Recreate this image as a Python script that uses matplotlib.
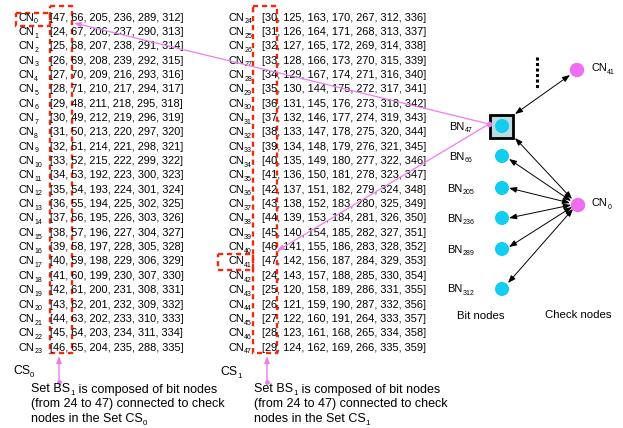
import matplotlib.pyplot as plt
from matplotlib.patches import Rectangle, Circle

plt.rcParams['font.family'] = ['Liberation Sans', 'DejaVu Sans']

# check node connections, set CS0 (CN0..CN23) and CS1 (CN24..CN47)
cs0_ids = list(range(0, 24))
cs0_rows = [
    [47, 66, 205, 236, 289, 312], [24, 67, 206, 237, 290, 313],
    [25, 68, 207, 238, 291, 314], [26, 69, 208, 239, 292, 315],
    [27, 70, 209, 216, 293, 316], [28, 71, 210, 217, 294, 317],
    [29, 48, 211, 218, 295, 318], [30, 49, 212, 219, 296, 319],
    [31, 50, 213, 220, 297, 320], [32, 51, 214, 221, 298, 321],
    [33, 52, 215, 222, 299, 322], [34, 53, 192, 223, 300, 323],
    [35, 54, 193, 224, 301, 324], [36, 55, 194, 225, 302, 325],
    [37, 56, 195, 226, 303, 326], [38, 57, 196, 227, 304, 327],
    [39, 58, 197, 228, 305, 328], [40, 59, 198, 229, 306, 329],
    [41, 60, 199, 230, 307, 330], [42, 61, 200, 231, 308, 331],
    [43, 62, 201, 232, 309, 332], [44, 63, 202, 233, 310, 333],
    [45, 64, 203, 234, 311, 334], [46, 65, 204, 235, 288, 335],
]
cs1_ids = list(range(24, 48))
cs1_rows = [
    [30, 125, 163, 170, 267, 312, 336], [31, 126, 164, 171, 268, 313, 337],
    [32, 127, 165, 172, 269, 314, 338], [33, 128, 166, 173, 270, 315, 339],
    [34, 129, 167, 174, 271, 316, 340], [35, 130, 144, 175, 272, 317, 341],
    [36, 131, 145, 176, 273, 318, 342], [37, 132, 146, 177, 274, 319, 343],
    [38, 133, 147, 178, 275, 320, 344], [39, 134, 148, 179, 276, 321, 345],
    [40, 135, 149, 180, 277, 322, 346], [41, 136, 150, 181, 278, 323, 347],
    [42, 137, 151, 182, 279, 324, 348], [43, 138, 152, 183, 280, 325, 349],
    [44, 139, 153, 184, 281, 326, 350], [45, 140, 154, 185, 282, 327, 351],
    [46, 141, 155, 186, 283, 328, 352], [47, 142, 156, 187, 284, 329, 353],
    [24, 143, 157, 188, 285, 330, 354], [25, 120, 158, 189, 286, 331, 355],
    [26, 121, 159, 190, 287, 332, 356], [27, 122, 160, 191, 264, 333, 357],
    [28, 123, 161, 168, 265, 334, 358], [29, 124, 162, 169, 266, 335, 359],
]
bit_nodes = [47, 66, 205, 236, 289, 312]
check_nodes = [41, 0]

RED = '#f02a10'
PINK = '#ee7cf0'
CYAN = '#12cdf0'
MAGENTA = '#f06cf0'

fig = plt.figure(figsize=(6.23, 4.28), dpi=100)
ax = fig.add_axes([0, 0, 1, 1])
ax.set_xlim(0, 623)
ax.set_ylim(428, 0)
ax.axis('off')
renderer = fig.canvas.get_renderer()


def width(t):
    return t.get_window_extent(renderer).width


def sub_text(x, y, parts, fs, ha='left', drop=None):
    # parts: list of (text, is_subscript); y is the baseline
    if drop is None:
        drop = 2.8 * fs / 8
    items = []
    for s, is_sub in parts:
        t = ax.text(0, y + (drop if is_sub else 0), s,
                    fontsize=fs * 0.64 if is_sub else fs, va='baseline', ha='left')
        items.append(t)
    total = sum(width(t) for t in items)
    if ha == 'right':
        x -= total
    elif ha == 'center':
        x -= total / 2
    for t in items:
        t.set_x(x)
        x += width(t)
    return x


fs = 7.9
row0, dy = 16.6, 14.35


def row_y(i):
    return row0 + dy * i


# left column CS0
for i, (cn, vals) in enumerate(zip(cs0_ids, cs0_rows)):
    y = row_y(i) + 3.9
    sub_text(18.5, y, [("CN", 0), (str(cn), 1)], fs)
    ax.text(50.5, y, "[" + ", ".join(str(v) for v in vals) + "]",
            fontsize=fs, va='baseline', ha='left')

# right column CS1
for i, (cn, vals) in enumerate(zip(cs1_ids, cs1_rows)):
    y = row_y(i) + 3.9
    sub_text(252, y, [("CN", 0), (str(cn), 1)], fs, ha='right')
    ax.text(261.5, y, "[" + ", ".join(str(v) for v in vals) + "]",
            fontsize=fs, va='baseline', ha='left')

dash = (0, (2.2, 1.6))
for (x0, y0, x1, y1) in [(50, 6, 72, 353), (16, 13, 50, 25.5),
                         (253, 6, 277, 353), (218, 254, 253, 270)]:
    ax.add_patch(Rectangle((x0, y0), x1 - x0, y1 - y0, fill=False,
                           edgecolor=RED, lw=1.7, linestyle=dash))

# set labels
sub_text(13, 374, [("CS", 0), ("0", 1)], 8.8)
sub_text(220, 375, [("CS", 0), ("1", 1)], 8.8)

# captions with pink arrows
for cx, ax_x, cs in [(31, 59, 0), (254, 267, 1)]:
    lines = [[("Set BS", 0), ("1", 1), (" is composed of bit nodes", 0)],
             [("(from 24 to 47) connected to check", 0)],
             [("nodes in the Set CS", 0), (str(cs), 1)]]
    for k, line in enumerate(lines):
        sub_text(cx, 392.5 + 15 * k, line, 9, drop=2.2)
    ax.annotate("", xy=(ax_x, 356), xytext=(ax_x, 382),
                arrowprops=dict(arrowstyle='-|>,head_length=0.4,head_width=0.15',
                                color=PINK, lw=1, shrinkA=0, shrinkB=0))
    ax.plot(ax_x, 382, 'o', color=PINK, ms=2.5)

# node graph
bit_x = 502
bit_y = [126, 156, 188, 218, 249, 289]
ax.add_patch(Rectangle((490, 114.5), 23, 23, facecolor='#b8dce2',
                       edgecolor='black', lw=2, zorder=2))
for bn, y in zip(bit_nodes, bit_y):
    ax.add_patch(Circle((bit_x, y), 6.3, color=CYAN, zorder=3))
    sub_text(461, y + 3.5, [("BN", 0), (str(bn), 1)], fs, ha='center')

cn_pos = [(577, 70), (578, 205)]
for cn, (x, y) in zip(check_nodes, cn_pos):
    ax.add_patch(Circle((x, y), 6.5, color=MAGENTA, zorder=3))
    sub_text(x + 14, y + 1, [("CN", 0), (str(cn), 1)], fs)

ax.plot([537, 537], [57, 89], color='black', lw=2.2, linestyle=(0, (1, 0.8)))

arrow = dict(arrowstyle='<|-|>,head_length=0.45,head_width=0.17', color='black',
             lw=0.7, shrinkA=0, shrinkB=0)
ax.annotate("", xy=(515, 114), xytext=(570, 75), arrowprops=arrow)
bit_ends = [(515, 138), (509, 159), (509, 188), (509, 218), (509, 247), (508, 283)]
cn0_ends = [(572, 199), (571, 201), (570, 203), (571, 205), (572, 207), (573, 209)]
for (bx, by), (cx, cy) in zip(bit_ends, cn0_ends):
    ax.annotate("", xy=(bx, by), xytext=(cx, cy), arrowprops=arrow)

ax.text(481, 319, "Bit nodes", fontsize=8.2, ha='center', va='baseline')
ax.text(578, 318, "Check nodes", fontsize=8.2, ha='center', va='baseline')

# pink links from BN47 back to the tables
pink = dict(arrowstyle='-|>,head_length=0.4,head_width=0.15', color=PINK,
            lw=0.9, shrinkA=0, shrinkB=0)
ax.annotate("", xy=(74, 23), xytext=(489, 124), arrowprops=pink)
ax.annotate("", xy=(277, 251), xytext=(489, 124), arrowprops=pink)
ax.plot(489, 124, 'o', color=PINK, ms=3, zorder=4)

fig.savefig("out.png", dpi=100)
